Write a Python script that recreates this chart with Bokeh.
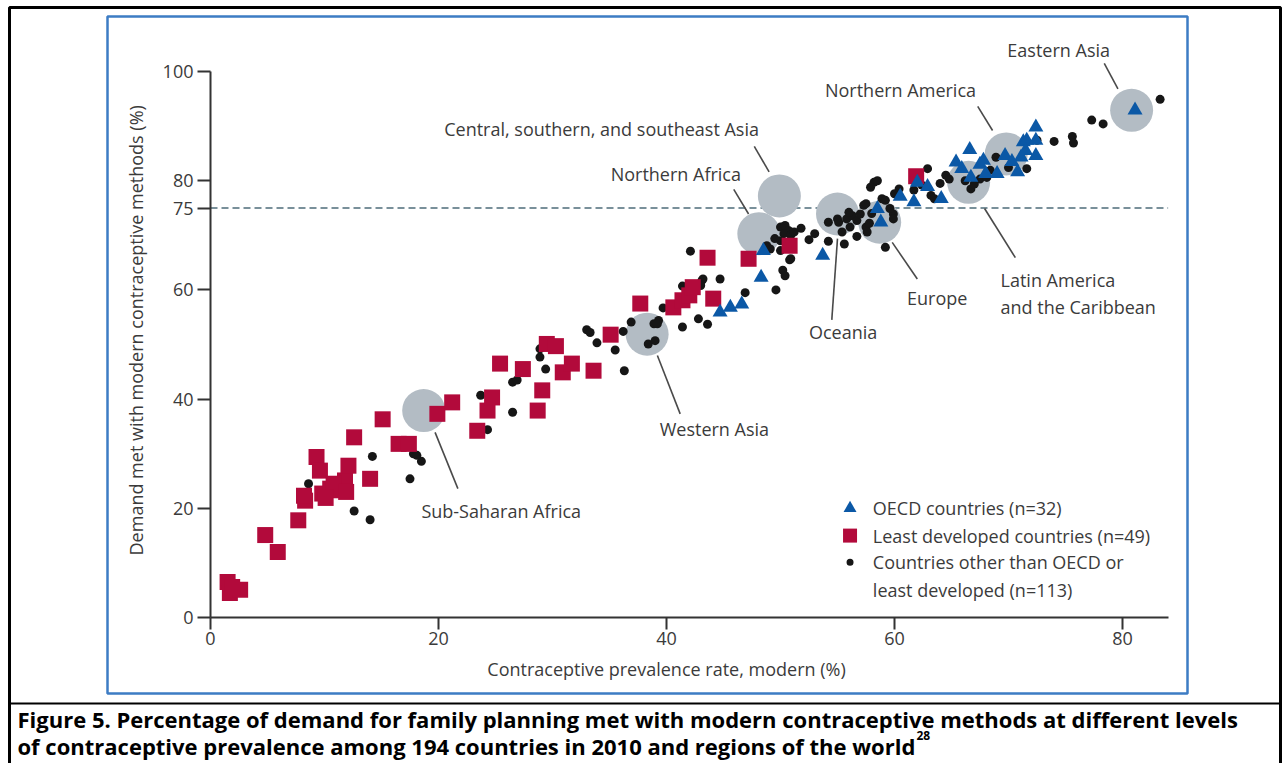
from math import pi

from bokeh.plotting import figure
from bokeh.models import Range1d, FixedTicker
from bokeh.core.properties import value
from bokeh.embed import file_html
from bokeh.resources import INLINE

# ---------------------------------------------------------------------------
# Data: modern contraceptive prevalence (x, %) vs demand met with modern
# methods (y, %), 194 countries in 2010, plus regional aggregates.
# ---------------------------------------------------------------------------
oecd_cpr = [44.7, 45.6, 46.6, 48.3, 48.5, 53.7, 58.5, 58.8, 60.5, 61.7, 62.0,
            62.9, 64.1, 65.4, 65.9, 66.6, 66.7, 67.5, 67.8, 68.0, 69.0, 69.7,
            70.8, 71.1, 71.3, 71.6, 71.5, 72.4, 72.4, 72.4, 81.1, 70.3]
oecd_met = [55.9, 56.8, 57.4, 62.3, 67.2, 66.3, 74.9, 72.4, 77.1, 76.1, 79.7,
            78.9, 76.7, 83.4, 82.2, 85.7, 80.6, 83.0, 83.7, 81.3, 81.3, 84.6,
            81.6, 84.3, 87.1, 87.4, 85.5, 89.8, 87.4, 84.6, 92.9, 83.5]

ldc_cpr = [1.5, 1.7, 2.6, 1.9, 4.8, 5.9, 7.7, 8.3, 9.3, 9.6, 9.8, 10.5, 11.4,
           11.8, 12.1, 8.2, 10.8, 12.6, 14.0, 15.1, 16.5, 17.4, 19.9, 21.2,
           23.4, 24.3, 24.7, 28.7, 25.4, 27.4, 29.1, 29.5, 30.3, 30.9, 31.7,
           33.6, 35.1, 37.7, 40.6, 41.4, 42.0, 42.3, 43.6, 44.1, 47.2, 50.8,
           61.9, 10.1, 11.9]
ldc_met = [6.5, 4.5, 5.1, 5.6, 15.1, 12.0, 17.8, 21.4, 29.4, 26.9, 22.7, 23.6,
           23.3, 25.1, 27.8, 22.3, 24.5, 33.0, 25.4, 36.3, 31.8, 31.8, 37.3,
           39.4, 34.2, 37.9, 40.3, 37.9, 46.5, 45.5, 41.6, 50.1, 49.7, 44.9,
           46.5, 45.2, 51.8, 57.5, 56.8, 58.1, 59.0, 60.5, 65.9, 58.4, 65.7,
           68.1, 80.8, 21.9, 23.0]

other_cpr = [8.6, 12.6, 14.0, 14.2, 17.5, 17.8, 18.5, 18.1,
             24.3, 26.5, 23.7, 26.5, 26.9, 28.9, 28.9, 29.4,
             33.0, 33.3, 33.9, 35.5, 36.2, 36.3, 36.9, 38.9,
             39.3, 38.4, 39.0, 39.7, 41.4, 41.4, 42.1, 42.8,
             43.1, 43.6, 44.7, 46.9, 49.6, 50.2, 50.4, 50.8,
             54.2, 55.6, 59.2, 58.2, 58.5, 50.0, 50.4, 50.7,
             50.3, 50.9, 50.0, 51.8, 49.1, 48.8, 50.0, 50.9,
             52.5, 54.2, 55.0, 55.1, 55.8, 56.1, 56.3, 56.7,
             57.0, 57.3, 57.5, 57.6, 56.7, 58.9, 59.2, 59.9,
             59.9, 60.4, 59.6, 61.7, 62.9, 63.2, 63.5, 64.5,
             64.8, 66.2, 66.7, 67.5, 68.1, 68.4, 68.9, 71.6,
             72.5, 74.0, 75.6, 75.7, 77.3, 78.3, 83.3, 57.9,
             57.5, 39.2, 43.2, 43.0,
             51.2, 53.0, 55.4, 56.0, 57.8, 58.0, 60.0, 62.4, 64.0, 67.0,
             70.0, 50.6, 49.5]
other_met = [24.5, 19.5, 17.9, 29.5, 25.4, 30.0, 28.6, 29.7,
             34.4, 37.6, 40.7, 43.1, 43.5, 49.2, 47.7, 45.5,
             52.7, 52.2, 50.3, 49.0, 52.4, 45.2, 54.1, 53.8,
             54.4, 50.1, 50.7, 56.7, 53.2, 60.7, 67.1, 54.7,
             61.7, 53.7, 62.0, 59.5, 60.0, 63.6, 62.6, 65.5,
             68.9, 68.4, 67.8, 79.7, 80.0, 71.5, 71.8, 70.9,
             70.3, 70.0, 69.0, 71.3, 67.5, 68.1, 67.2, 65.7,
             69.2, 72.4, 73.0, 72.4, 73.0, 71.5, 73.6, 72.7,
             73.9, 75.5, 71.5, 70.6, 69.8, 76.7, 76.4, 73.9,
             73.0, 78.5, 74.9, 78.3, 82.2, 77.3, 76.7, 81.0,
             80.3, 80.0, 78.5, 80.3, 80.6, 81.9, 84.3, 82.2,
             87.4, 87.2, 88.1, 86.9, 91.1, 90.4, 94.9, 78.8,
             75.8, 53.8, 62.0, 60.8,
             70.6, 70.3, 70.6, 74.2, 72.2, 74.0, 77.6, 79.2, 79.5, 79.4,
             82.4, 68.6, 69.4]

regions = ["Sub-Saharan Africa", "Western Asia", "Northern Africa",
           "Central, southern, and southeast Asia", "Oceania", "Europe",
           "Latin America and the Caribbean", "Northern America",
           "Eastern Asia"]
region_cpr = [18.7, 38.3, 48.1, 49.9, 55.0, 58.7, 66.5, 69.8, 80.8]
region_met = [37.9, 51.9, 70.3, 77.2, 73.9, 72.4, 79.7, 84.9, 92.9]

target_met = 75
x_ticks = [0, 20, 40, 60, 80]
y_ticks = [0, 20, 40, 60, 75, 80, 100]

legend_labels = ["OECD countries (n=32)", "Least developed countries (n=49)",
                 "Countries other than OECD or", "least developed (n=113)"]

caption_1 = ("Figure 5. Percentage of demand for family planning met with modern "
             "contraceptive methods at different levels")
caption_2 = ("of contraceptive prevalence among 194 countries in 2010 and regions "
             "of the world")
caption_ref = "28"

# ---------------------------------------------------------------------------
# Layout: the frame fills the whole canvas; the axes are pinned at data zero
# so the page border, the blue panel and the caption can all be drawn inside.
# ---------------------------------------------------------------------------
W, H = 1283, 763
ORIGIN_PX, ORIGIN_PY = 210, 617      # canvas pixel of (0, 0)
PX_PER_X, PX_PER_Y = 11.4, 5.46      # canvas pixels per data unit
X0, X1 = -ORIGIN_PX / PX_PER_X, (W - ORIGIN_PX) / PX_PER_X
Y0, Y1 = (ORIGIN_PY - H) / PX_PER_Y, ORIGIN_PY / PX_PER_Y


def dx(px):
    return (px - ORIGIN_PX) / PX_PER_X


def dy(py):
    return (ORIGIN_PY - py) / PX_PER_Y


FONT = "Open Sans"
CAP_FONT = "Open Sans"
TXT = "#3b3b3b"
RED = "#b20a3b"
BLUE = "#0b58a6"
DOT = "#161616"
REGION = "#b3bcc4"
PANEL_BLUE = "#3d7cc4"

p = figure(width=W, height=H, x_range=Range1d(X0, X1), y_range=Range1d(Y0, Y1),
           output_backend="svg", toolbar_location=None, min_border=0)
p.grid.visible = False
p.background_fill_color = "white"
p.border_fill_color = "white"
p.outline_line_color = None

for ax, ticks, bounds in ((p.xaxis[0], x_ticks, (0, 84)),
                          (p.yaxis[0], y_ticks, (0, 100))):
    ax.fixed_location = 0
    ax.bounds = bounds
    ax.ticker = FixedTicker(ticks=ticks)
    ax.minor_tick_line_color = None
    ax.major_tick_in = 0
    ax.axis_line_color = "#333333"
    ax.axis_line_width = 2
    ax.major_tick_line_color = "#333333"
    ax.major_tick_line_width = 2
    ax.major_label_text_font = FONT
    ax.major_label_text_font_size = "18px"
    ax.major_label_text_color = TXT
p.xaxis.major_tick_out = 12
p.xaxis.major_label_standoff = 2
p.yaxis.major_tick_out = 13
p.yaxis.major_label_standoff = 4

# page border, rule above the caption, and the blue chart panel
p.multi_line(xs=[[dx(9), dx(9), dx(1280), dx(1280)]],
             ys=[[dy(770), dy(7), dy(7), dy(770)]],
             line_color="black", line_width=3)
p.line(x=[dx(9), dx(1280)], y=[dy(703), dy(703)], line_color="black", line_width=2)
p.quad(left=[dx(107)], right=[dx(1187)], bottom=[dy(693)], top=[dy(16)],
       fill_color=None, line_color=PANEL_BLUE, line_width=2.5)

# axis titles
p.text(x=[40], y=[dy(668)], text=["Contraceptive prevalence rate, modern (%)"],
       text_font=value(FONT), text_font_size="18px", text_color=TXT,
       text_align="center", text_baseline="middle")
p.text(x=[dx(135)], y=[52.6], text=["Demand met with modern contraceptive methods (%)"],
       angle=pi / 2, text_font=value(FONT), text_font_size="18px", text_color=TXT,
       text_align="center", text_baseline="middle")

# 75% reference line
p.segment(x0=[0], y0=[target_met], x1=[84], y1=[target_met],
          line_color="#4d6c79", line_width=1.5, line_dash="7 4")

# regional aggregates and country markers
p.scatter(region_cpr, region_met, size=43, marker="circle",
          fill_color=REGION, line_color=None)
p.scatter(other_cpr, other_met, size=9, marker="circle",
          fill_color=DOT, line_color=None)
p.scatter(ldc_cpr, ldc_met, size=16, marker="square",
          fill_color=RED, line_color=None)
p.scatter(oecd_cpr, oecd_met, size=15, marker="triangle",
          fill_color=BLUE, line_color=None)

# region call-outs: (label lines, left x, centre y) and leader lines
callouts = [
    (["Sub-Saharan Africa"], 18.5, 19.5, (19.7, 33.9, 21.7, 23.6)),
    (["Western Asia"], 39.4, 34.6, (39.2, 48.0, 41.2, 37.3)),
    (["Northern Africa"], 35.1, 81.3, (45.9, 78.4, 47.2, 73.9)),
    (["Central, southern, and southeast Asia"], 20.5, 89.4, (47.7, 86.3, 49.0, 81.6)),
    (["Oceania"], 52.5, 52.3, (55.0, 69.4, 54.5, 54.5)),
    (["Europe"], 61.1, 58.6, (59.8, 68.7, 62.0, 62.0)),
    (["Latin America", "and the Caribbean"], 69.3, 61.9, (67.9, 74.9, 70.6, 65.9)),
    (["Northern America"], 53.9, 96.7, (67.3, 93.6, 68.6, 89.2)),
    (["Eastern Asia"], 69.9, 104.0, (78.4, 101.5, 79.6, 96.8)),
]
lx, ly, lt = [], [], []
sx0, sy0, sx1, sy1 = [], [], [], []
for lines, x, y, seg in callouts:
    for i, line in enumerate(lines):
        lx.append(x)
        ly.append(y - i * 5.0)
        lt.append(line)
    sx0.append(seg[0]); sy0.append(seg[1]); sx1.append(seg[2]); sy1.append(seg[3])
p.segment(x0=sx0, y0=sy0, x1=sx1, y1=sy1, line_color="#4a4a4a", line_width=1.6)
p.text(x=lx, y=ly, text=lt, text_font=value(FONT), text_font_size="18px",
       text_color=TXT, text_align="left", text_baseline="middle")

# key
key_x = 56.1
p.scatter([key_x], [20.0], size=13, marker="triangle", fill_color=BLUE, line_color=None)
p.scatter([key_x], [15.0], size=14, marker="square", fill_color=RED, line_color=None)
p.scatter([key_x], [10.1], size=7, marker="circle", fill_color=DOT, line_color=None)
p.text(x=[58.1] * 4, y=[20.0, 15.0, 10.1, 5.0], text=legend_labels,
       text_font=value(FONT), text_font_size="18px", text_color=TXT,
       text_align="left", text_baseline="middle")

# caption
p.text(x=[dx(17), dx(17)], y=[dy(718), dy(745)], text=[caption_1, caption_2],
       text_font=value(CAP_FONT), text_font_style="bold", text_font_size="22px",
       text_color="black", text_align="left", text_baseline="middle")
p.text(x=[dx(916)], y=[dy(735)], text=[caption_ref],
       text_font=value(CAP_FONT), text_font_style="bold", text_font_size="12px",
       text_color="black", text_align="left", text_baseline="middle")

open("out.html", "w").write(file_html(p, INLINE))
